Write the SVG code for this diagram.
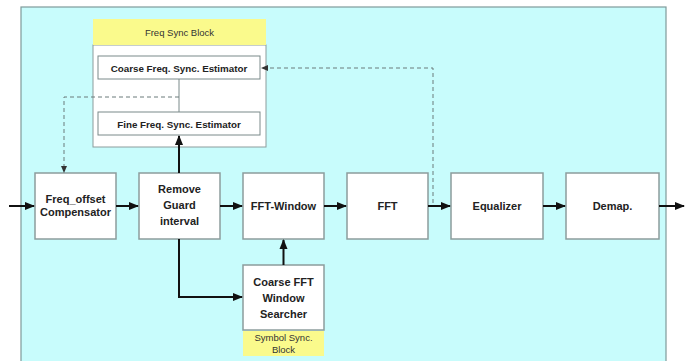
<svg xmlns="http://www.w3.org/2000/svg" width="692" height="361" viewBox="0 0 692 361">
<defs>
<marker id="ah" viewBox="0 0 10 10" refX="9" refY="5" markerWidth="5" markerHeight="5" orient="auto" markerUnits="strokeWidth"><path d="M0,1 L10,5 L0,9 z" fill="#111"/></marker>
</defs>
<style>
.blk{fill:#fff;stroke:#8c9c9c;stroke-width:1.5}
.sub{fill:#fff;stroke:#7a8a8a;stroke-width:1}
.lbl{font-family:"Liberation Sans",Arial,sans-serif;font-weight:bold;font-size:11px;fill:#222;text-anchor:middle}
.sm{font-family:"Liberation Sans",Arial,sans-serif;font-weight:bold;font-size:9.8px;fill:#222;text-anchor:middle}
.yl{font-family:"Liberation Sans",Arial,sans-serif;font-size:9.5px;fill:#333;text-anchor:middle}
.ar{stroke:#111;stroke-width:2;fill:none;marker-end:url(#ah)}
.dash{stroke:#6a7a7a;stroke-width:1;fill:none;stroke-dasharray:4,3}
</style>
<rect x="0" y="0" width="692" height="361" fill="#fff"/>
<rect x="21" y="7" width="645" height="360" fill="#c8fcfc" stroke="#7f9a9a" stroke-width="1.2"/>
<g id="freq-sync-block">
<rect x="93" y="45" width="173" height="102" fill="#fff" stroke="#8c9c9c" stroke-width="1"/>
<rect x="93" y="19" width="173" height="26" fill="#fafa8c"/>
<text class="yl" x="179.5" y="36">Freq Sync Block</text>
</g>
<g id="coarse-freq">
<rect class="sub" x="98" y="56" width="162" height="23"/>
<text class="sm" x="179" y="71.5">Coarse Freq.  Sync. Estimator</text>
</g>
<g id="fine-freq">
<rect class="sub" x="98" y="112" width="162" height="23"/>
<text class="sm" x="179" y="127.5">Fine Freq. Sync. Estimator</text>
</g>
<g id="freq-offset">
<rect class="blk" x="35" y="173" width="81" height="66"/>
<text class="lbl" x="75.5" y="203">Freq_offset</text>
<text class="lbl" x="75.5" y="216">Compensator</text>
</g>
<g id="remove-guard">
<rect class="blk" x="139" y="173" width="81" height="66"/>
<text class="lbl" x="179.5" y="193">Remove</text>
<text class="lbl" x="179.5" y="209">Guard</text>
<text class="lbl" x="179.5" y="225">interval</text>
</g>
<g id="fft-window">
<rect class="blk" x="243" y="173" width="81" height="66"/>
<text class="lbl" x="283.5" y="210">FFT-Window</text>
</g>
<g id="fft">
<rect class="blk" x="347" y="173" width="81" height="66"/>
<text class="lbl" x="387.5" y="210">FFT</text>
</g>
<g id="equalizer">
<rect class="blk" x="451" y="173" width="92" height="66"/>
<text class="lbl" x="497" y="210">Equalizer</text>
</g>
<g id="demap">
<rect class="blk" x="566" y="173" width="93" height="66"/>
<text class="lbl" x="612.5" y="210">Demap.</text>
</g>
<g id="coarse-fft">
<rect class="blk" x="243" y="265" width="81" height="65"/>
<text class="lbl" x="283.5" y="286">Coarse FFT</text>
<text class="lbl" x="283.5" y="302">Window</text>
<text class="lbl" x="283.5" y="318">Searcher</text>
<rect x="243" y="331" width="81" height="25" fill="#fafa8c"/>
<text class="yl" x="283.5" y="341">Symbol Sync.</text>
<text class="yl" x="283.5" y="352.5">Block</text>
</g>
<g id="connectors">
<line class="ar" x1="9" y1="206" x2="34" y2="206"/>
<line class="ar" x1="116" y1="206" x2="138" y2="206"/>
<line class="ar" x1="220" y1="206" x2="242" y2="206"/>
<line class="ar" x1="324" y1="206" x2="346" y2="206"/>
<line class="ar" x1="428" y1="206" x2="450" y2="206"/>
<line class="ar" x1="543" y1="206" x2="565" y2="206"/>
<line class="ar" x1="659" y1="206" x2="684" y2="206"/>
<line class="ar" x1="179" y1="173" x2="179" y2="136"/>
<polyline class="ar" points="179,239 179,297 242,297"/>
<line class="ar" x1="283.5" y1="265" x2="283.5" y2="240"/>
<line x1="179" y1="79" x2="179" y2="112" stroke="#7a8a8a" stroke-width="1"/>
<polyline class="dash" points="179,97 64,97 64,168"/>
<path d="M61,166 L64,173 L67,166 z" fill="#333"/>
<polyline class="dash" points="433,203 433,68 266,68"/>
<path d="M268,65 L261,68 L268,71 z" fill="#333"/>
</g>
</svg>
